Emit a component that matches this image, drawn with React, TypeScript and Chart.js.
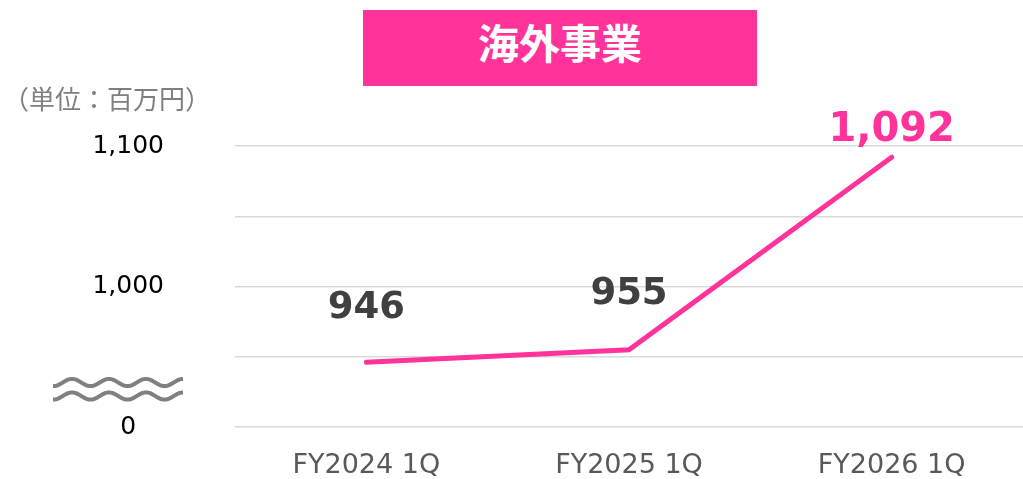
import React, { useEffect, useRef } from "react";
import { Chart, registerables } from "chart.js";

Chart.register(...registerables);

const categories = ["FY2024 1Q", "FY2025 1Q", "FY2026 1Q"];
const overseasSales = [946, 955, 1092];
const yTickValues = [900, 950, 1000, 1050, 1100];
const yTickLabels = ["0", "", "1,000", "", "1,100"];
const dataLabels = ["946", "955", "1,092"];
const titleText = "海外事業";
const unitText = "（単位：百万円）";

const PINK = "#FF3399";

const labelStyle = [
  { color: "#404040", dy: -54, size: 37 },
  { color: "#404040", dy: -55, size: 37 },
  { color: PINK, dy: -27, size: 40 },
];

const dataLabelPlugin = {
  id: "dataLabelPlugin",
  afterDatasetsDraw(chart: any) {
    const ctx = chart.ctx;
    const meta = chart.getDatasetMeta(0);
    ctx.save();
    ctx.textAlign = "center";
    ctx.textBaseline = "middle";
    meta.data.forEach((pt: any, i: number) => {
      const st = labelStyle[i];
      ctx.font = `bold ${st.size}px 'DejaVu Sans', Verdana, sans-serif`;
      ctx.fillStyle = st.color;
      ctx.fillText(dataLabels[i], pt.x, pt.y + st.dy);
    });
    ctx.restore();
  },
};

const breakMarkPlugin = {
  id: "breakMarkPlugin",
  afterDraw(chart: any) {
    const ctx = chart.ctx;
    const x0 = 53;
    const x1 = 183;
    const period = 37;
    const amp = 3.6;
    const crest = 72;
    ctx.save();
    ctx.strokeStyle = "#808080";
    ctx.lineWidth = 4;
    ctx.lineCap = "butt";
    [382.5, 396].forEach((cy) => {
      ctx.beginPath();
      for (let x = x0; x <= x1; x += 1) {
        const y = cy - amp * Math.cos((2 * Math.PI * (x - crest)) / period);
        if (x === x0) ctx.moveTo(x, y);
        else ctx.lineTo(x, y);
      }
      ctx.stroke();
    });
    ctx.restore();
  },
};

export default function App() {
  const canvasRef = useRef<HTMLCanvasElement | null>(null);

  useEffect(() => {
    if (!canvasRef.current) return;
    const chart = new Chart(canvasRef.current, {
      type: "line",
      data: {
        labels: categories,
        datasets: [
          {
            data: overseasSales,
            borderColor: PINK,
            backgroundColor: PINK,
            borderWidth: 5,
            borderCapStyle: "round",
            borderJoinStyle: "miter",
            pointRadius: 0,
            tension: 0,
          },
        ],
      },
      options: {
        responsive: false,
        animation: false,
        layout: { padding: { top: 146, right: 0, bottom: 0, left: 0 } },
        plugins: {
          legend: { display: false },
          tooltip: { enabled: false },
          title: { display: false },
        },
        scales: {
          x: {
            offset: true,
            grid: { display: false, drawTicks: false },
            border: { display: false },
            ticks: {
              padding: 23,
              color: "#595959",
              font: { family: "'DejaVu Sans', Verdana, sans-serif", size: 27 },
              maxRotation: 0,
              autoSkip: false,
            },
            afterFit(scale: any) {
              scale.height = 52;
              scale.paddingLeft = 0;
              scale.paddingRight = 0;
            },
          },
          y: {
            min: 900,
            max: 1100,
            grid: { color: "#d9d9d9", lineWidth: 1.5, drawTicks: false },
            border: { display: false },
            afterBuildTicks(scale: any) {
              scale.ticks = yTickValues.map((v) => ({ value: v }));
            },
            ticks: {
              padding: 71,
              crossAlign: "center",
              color: "#000000",
              font: { family: "'DejaVu Sans', Verdana, sans-serif", size: 25 },
              callback: (v: any) => {
                const idx = yTickValues.indexOf(Number(v));
                return idx >= 0 ? yTickLabels[idx] : "";
              },
            },
            afterFit(scale: any) {
              scale.width = 235;
              scale.paddingTop = 0;
              scale.paddingBottom = 0;
            },
          },
        },
      },
      plugins: [dataLabelPlugin, breakMarkPlugin],
    } as any);
    return () => chart.destroy();
  }, []);

  return (
    <div style={{ position: "absolute", left: 0, top: 0, width: 1023, height: 479, background: "#ffffff", overflow: "hidden" }}>
      <canvas ref={canvasRef} width={1023} height={479} style={{ position: "absolute", left: 0, top: 0, width: 1023, height: 479 }} />
      <div
        style={{
          position: "absolute",
          left: 363,
          top: 10,
          width: 394,
          height: 76,
          background: PINK,
          color: "#ffffff",
          fontFamily: "'Noto Sans CJK JP', sans-serif",
          fontWeight: 700,
          fontSize: 41,
          lineHeight: "41px",
          display: "flex",
          alignItems: "center",
          justifyContent: "center",
          paddingBottom: 13,
          boxSizing: "border-box",
        }}
      >
        {titleText}
      </div>
      <div
        style={{
          position: "absolute",
          left: 3,
          top: 85,
          fontFamily: "'Noto Sans CJK JP', sans-serif",
          fontSize: 26,
          lineHeight: "26px",
          color: "#7f7f7f",
          whiteSpace: "nowrap",
        }}
      >
        {unitText}
      </div>
    </div>
  );
}
